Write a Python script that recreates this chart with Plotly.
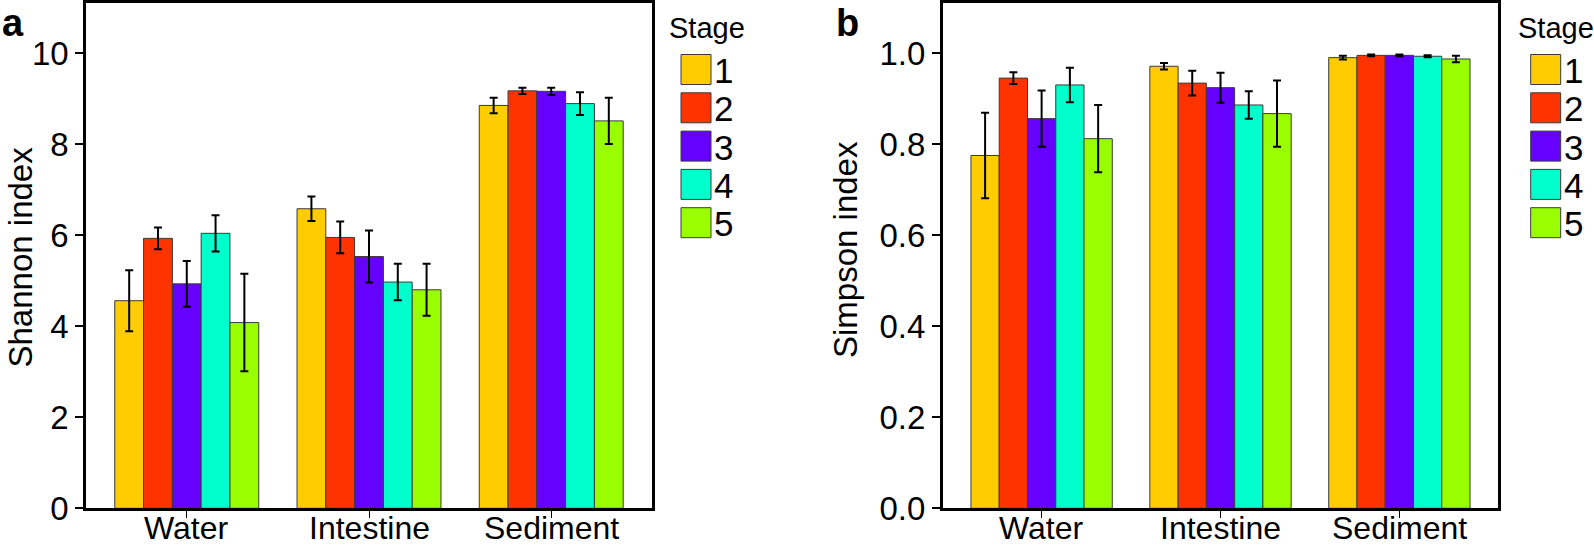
import plotly.graph_objects as go

# ---------------- data ----------------
categories = ["Water", "Intestine", "Sediment"]
stages = ["1", "2", "3", "4", "5"]
colors = ["#FFCC00", "#FF3300", "#6600FF", "#00FFCC", "#99FF00"]

# Shannon index (rows = stage, cols = Water, Intestine, Sediment)
shannon_s1 = [4.56, 6.58, 8.85]
shannon_s2 = [5.93, 5.95, 9.17]
shannon_s3 = [4.93, 5.53, 9.16]
shannon_s4 = [6.04, 4.97, 8.89]
shannon_s5 = [4.08, 4.80, 8.51]
shannon_err_s1 = [0.67, 0.27, 0.17]
shannon_err_s2 = [0.24, 0.35, 0.07]
shannon_err_s3 = [0.50, 0.57, 0.08]
shannon_err_s4 = [0.40, 0.40, 0.25]
shannon_err_s5 = [1.07, 0.57, 0.51]

# Simpson index
simpson_s1 = [0.775, 0.971, 0.990]
simpson_s2 = [0.945, 0.934, 0.995]
simpson_s3 = [0.856, 0.924, 0.995]
simpson_s4 = [0.930, 0.886, 0.993]
simpson_s5 = [0.812, 0.867, 0.987]
simpson_err_s1 = [0.094, 0.007, 0.004]
simpson_err_s2 = [0.013, 0.027, 0.002]
simpson_err_s3 = [0.062, 0.033, 0.002]
simpson_err_s4 = [0.038, 0.030, 0.002]
simpson_err_s5 = [0.074, 0.073, 0.007]

shannon_tickvals = [0, 2, 4, 6, 8, 10]
shannon_ticktext = ["0", "2", "4", "6", "8", "10"]
simpson_tickvals = [0, 0.2, 0.4, 0.6, 0.8, 1.0]
simpson_ticktext = ["0.0", "0.2", "0.4", "0.6", "0.8", "1.0"]

shannon = [shannon_s1, shannon_s2, shannon_s3, shannon_s4, shannon_s5]
shannon_err = [shannon_err_s1, shannon_err_s2, shannon_err_s3, shannon_err_s4, shannon_err_s5]
simpson = [simpson_s1, simpson_s2, simpson_s3, simpson_s4, simpson_s5]
simpson_err = [simpson_err_s1, simpson_err_s2, simpson_err_s3, simpson_err_s4, simpson_err_s5]

# ---------------- layout helpers ----------------
W, H = 1594, 548
FONT = "Liberation Sans, Arial, sans-serif"


def px(x):
    return x / W


def py(y):
    return 1 - y / H


fig = go.Figure()

for i, st in enumerate(stages):
    fig.add_trace(go.Bar(
        x=categories, y=shannon[i], name=st, showlegend=False,
        marker=dict(color=colors[i], line=dict(color="#3a3a3a", width=1)),
        error_y=dict(type="data", array=shannon_err[i], color="black", thickness=2, width=4),
        xaxis="x", yaxis="y",
    ))
for i, st in enumerate(stages):
    fig.add_trace(go.Bar(
        x=categories, y=simpson[i], name=st, showlegend=False,
        marker=dict(color=colors[i], line=dict(color="#3a3a3a", width=1)),
        error_y=dict(type="data", array=simpson_err[i], color="black", thickness=2, width=4),
        xaxis="x2", yaxis="y2",
    ))

L1, R1 = 86, 652
L2, R2 = 942.7, 1498.3
TOP, BOT = 3, 508.3

xcommon = dict(
    showline=True, linecolor="black", linewidth=2.5, mirror=True,
    ticks="outside", ticklen=7, tickwidth=1.2, tickcolor="black",
    showticklabels=False,
    range=[-0.553, 2.553], showgrid=False, zeroline=False, fixedrange=True,
    automargin=False,
)
ycommon = dict(
    showline=True, linecolor="black", linewidth=2.5, mirror=True,
    ticks="outside", ticklen=8, tickwidth=1.5, tickcolor="black",
    tickfont=dict(family=FONT, size=33, color="black"),
    showgrid=False, zeroline=False, fixedrange=True, automargin=False,
)

fig.update_layout(
    width=W, height=H,
    margin=dict(l=0, r=0, t=0, b=0),
    paper_bgcolor="white", plot_bgcolor="white",
    barmode="group", bargap=0.21, bargroupgap=0,
    font=dict(family=FONT, color="black"),
    xaxis=dict(domain=[px(L1), px(R1)], anchor="y", **xcommon),
    yaxis=dict(domain=[py(BOT), py(TOP)], anchor="x", range=[0, 11.1],
               tickvals=shannon_tickvals, ticktext=shannon_ticktext, **ycommon),
    xaxis2=dict(domain=[px(L2), px(R2)], anchor="y2", **xcommon),
    yaxis2=dict(domain=[py(BOT), py(TOP)], anchor="x2", range=[0, 1.11],
                tickvals=simpson_tickvals, ticktext=simpson_ticktext, **ycommon),
    showlegend=False,
)

annotations = []
shapes = []

# category labels placed on the category axes
for xr in ["x", "x2"]:
    for c in categories:
        annotations.append(dict(text=c, x=c, xref=xr, y=py(528), yref="paper",
                                xanchor="center", yanchor="middle", showarrow=False,
                                borderpad=0,
                                font=dict(family=FONT, size=32, color="black")))

# panel labels
annotations.append(dict(text="<b>a</b>", x=px(0), y=py(0), xref="paper", yref="paper",
                        xanchor="left", yanchor="top", showarrow=False,
                        font=dict(family=FONT, size=38, color="black")))
annotations.append(dict(text="<b>b</b>", x=px(834), y=py(0), xref="paper", yref="paper",
                        xanchor="left", yanchor="top", showarrow=False,
                        font=dict(family=FONT, size=38, color="black")))

# y axis titles
annotations.append(dict(text="Shannon index", x=px(0), y=py(257), xref="paper", yref="paper",
                        xanchor="left", yanchor="middle", textangle=-90, showarrow=False,
                        borderpad=0,
                        font=dict(family=FONT, size=33, color="black")))
annotations.append(dict(text="Simpson index", x=px(845), y=py(250), xref="paper", yref="paper",
                        xanchor="center", yanchor="middle", textangle=-90, showarrow=False,
                        font=dict(family=FONT, size=33, color="black")))

# legends (one per panel)
for R, toff, boff in [(R1, 14.7, 29), (R2, 17.5, 32.4)]:
    annotations.append(dict(text="Stage", x=px(R + toff), y=py(28), xref="paper", yref="paper",
                            xanchor="left", yanchor="middle", showarrow=False,
                            font=dict(family=FONT, size=29, color="black")))
    for k, st in enumerate(stages):
        y0 = 54.5 + 38.3 * k
        shapes.append(dict(type="rect", xref="paper", yref="paper",
                           x0=px(R + boff), x1=px(R + boff + 30),
                           y0=py(y0 + 30), y1=py(y0),
                           fillcolor=colors[k], line=dict(color="#3a3a3a", width=1)))
        annotations.append(dict(text=st, x=px(R + boff + 31), y=py(y0 + 16), xref="paper", yref="paper",
                                xanchor="left", yanchor="middle", showarrow=False,
                                font=dict(family=FONT, size=35, color="black")))

fig.update_layout(annotations=annotations, shapes=shapes)

fig.write_html(
    "out.html",
    config={"displayModeBar": False},
    post_script="document.body.style.margin='0';document.body.style.overflow='hidden';",
)
